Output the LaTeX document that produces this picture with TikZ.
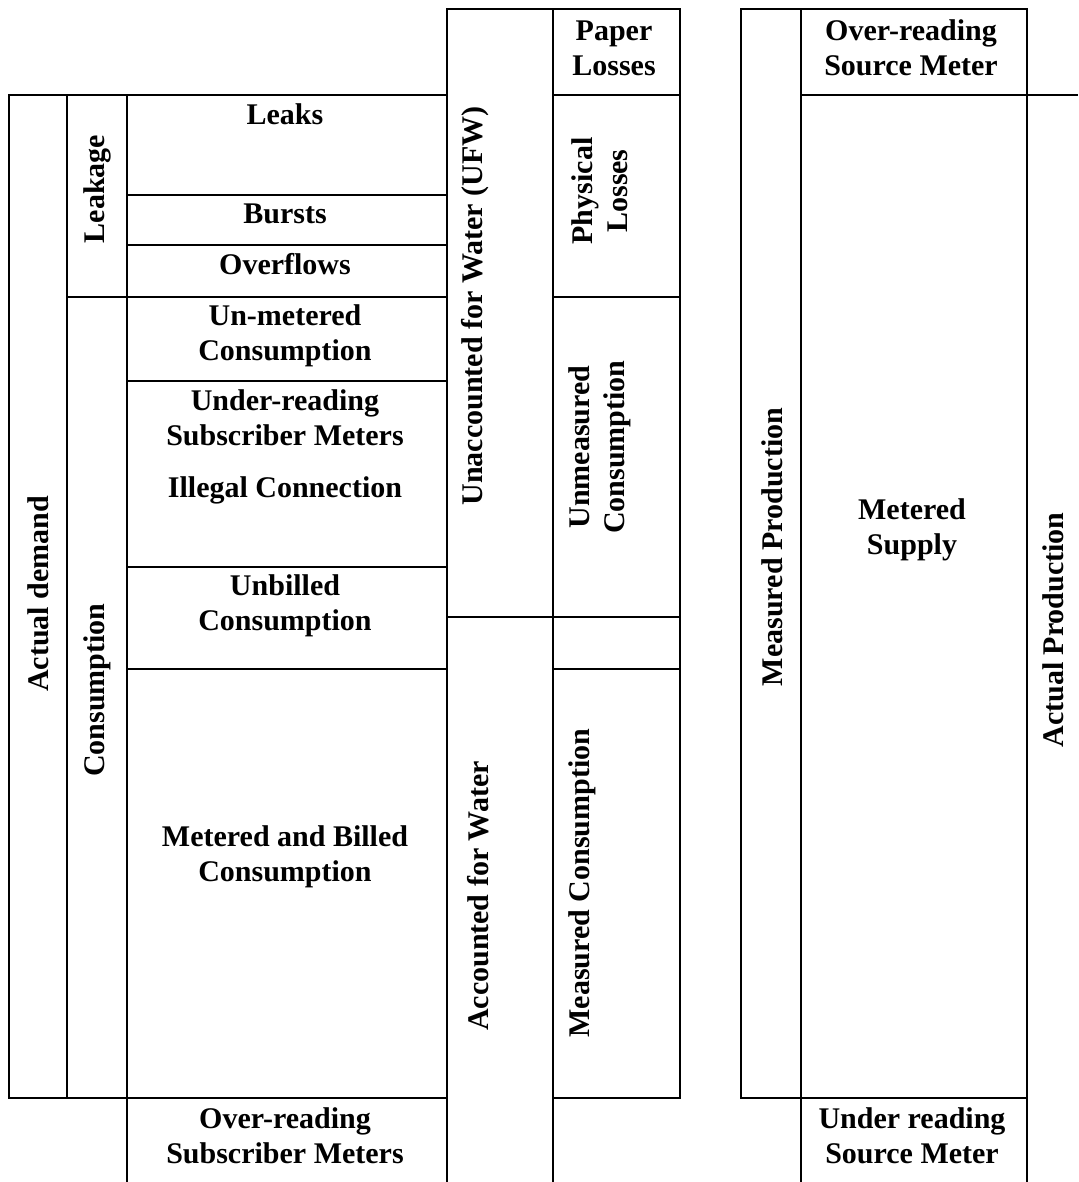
\documentclass[tikz,border=0pt]{standalone}
\usepackage{fontspec}
\setmainfont{Liberation Serif}
\begin{document}
\begin{tikzpicture}[x=0.5pt,y=-0.5pt,
	cell/.style={line width=1pt},
	lbl/.style={font=\bfseries\fontsize{15}{17.5}\selectfont, align=center, inner sep=0pt},
	vlbl/.style={lbl, rotate=90}]
	\useasboundingbox (0,0) rectangle (1078,1182);
	% demand side
	\draw[cell] (8.6,95) rectangle (447,1098);
	\draw[cell] (67,95) -- (67,1098);
	\draw[cell] (127,95) -- (127,1182);
	\draw[cell] (67,297) -- (447,297);
	\foreach \y in {195,245,381,567,669}
		\draw[cell] (127,\y) -- (447,\y);
	% water columns
	\draw[cell] (447,1182) -- (447,9) -- (680,9) -- (680,1098) -- (553,1098);
	\draw[cell] (553,9) -- (553,1182);
	\draw[cell] (447,617) -- (680,617);
	\foreach \y in {95,297,669}
		\draw[cell] (553,\y) -- (680,\y);
	% production side
	\draw[cell] (741,9) rectangle (1027,1098);
	\draw[cell] (801,9) -- (801,1182);
	\draw[cell] (1027,1098) -- (1027,1182);
	\draw[cell] (801,95) -- (1078,95);
	% labels
	\node[vlbl] (demand) at (38,594) {Actual demand};
	\node[vlbl] (leakage) at (97,189) {Leakage};
	\node[vlbl] (consumption) at (97,690) {Consumption};
	\node[lbl] (leaks) at (285,114) {Leaks};
	\node[lbl] (bursts) at (285,214) {Bursts};
	\node[lbl] (overflows) at (285,264) {Overflows};
	\node[lbl] (unmetered) at (285,336) {Un-metered\\Consumption};
	\node[lbl] (underread) at (285,447) {Under-reading\\Subscriber Meters\\[8.5pt]Illegal Connection};
	\node[lbl] (unbilled) at (285,606) {Unbilled\\Consumption};
	\node[lbl] (billed) at (285,857) {Metered and Billed\\Consumption};
	\node[lbl] (overread) at (285,1136) {Over-reading\\Subscriber Meters};
	\node[vlbl] (ufw) at (475,306) {Unaccounted for Water (UFW)};
	\node[vlbl] (afw) at (478,896) {Accounted for Water};
	\node[lbl] (paper) at (614,48) {Paper\\Losses};
	\node[vlbl] (physical) at (600,191) {Physical\\Losses};
	\node[vlbl] (unmeasured) at (600,447) {Unmeasured\\Consumption};
	\node[vlbl] (measured) at (582,883) {Measured Consumption};
	\node[vlbl] (mproduction) at (772,547) {Measured Production};
	\node[lbl] (oversource) at (911,48) {Over-reading\\Source Meter};
	\node[lbl] (supply) at (912,530) {Metered\\Supply};
	\node[lbl] (undersource) at (912,1136) {Under reading\\Source Meter};
	\node[vlbl] (aproduction) at (1053,630) {Actual Production};
\end{tikzpicture}
\end{document}
